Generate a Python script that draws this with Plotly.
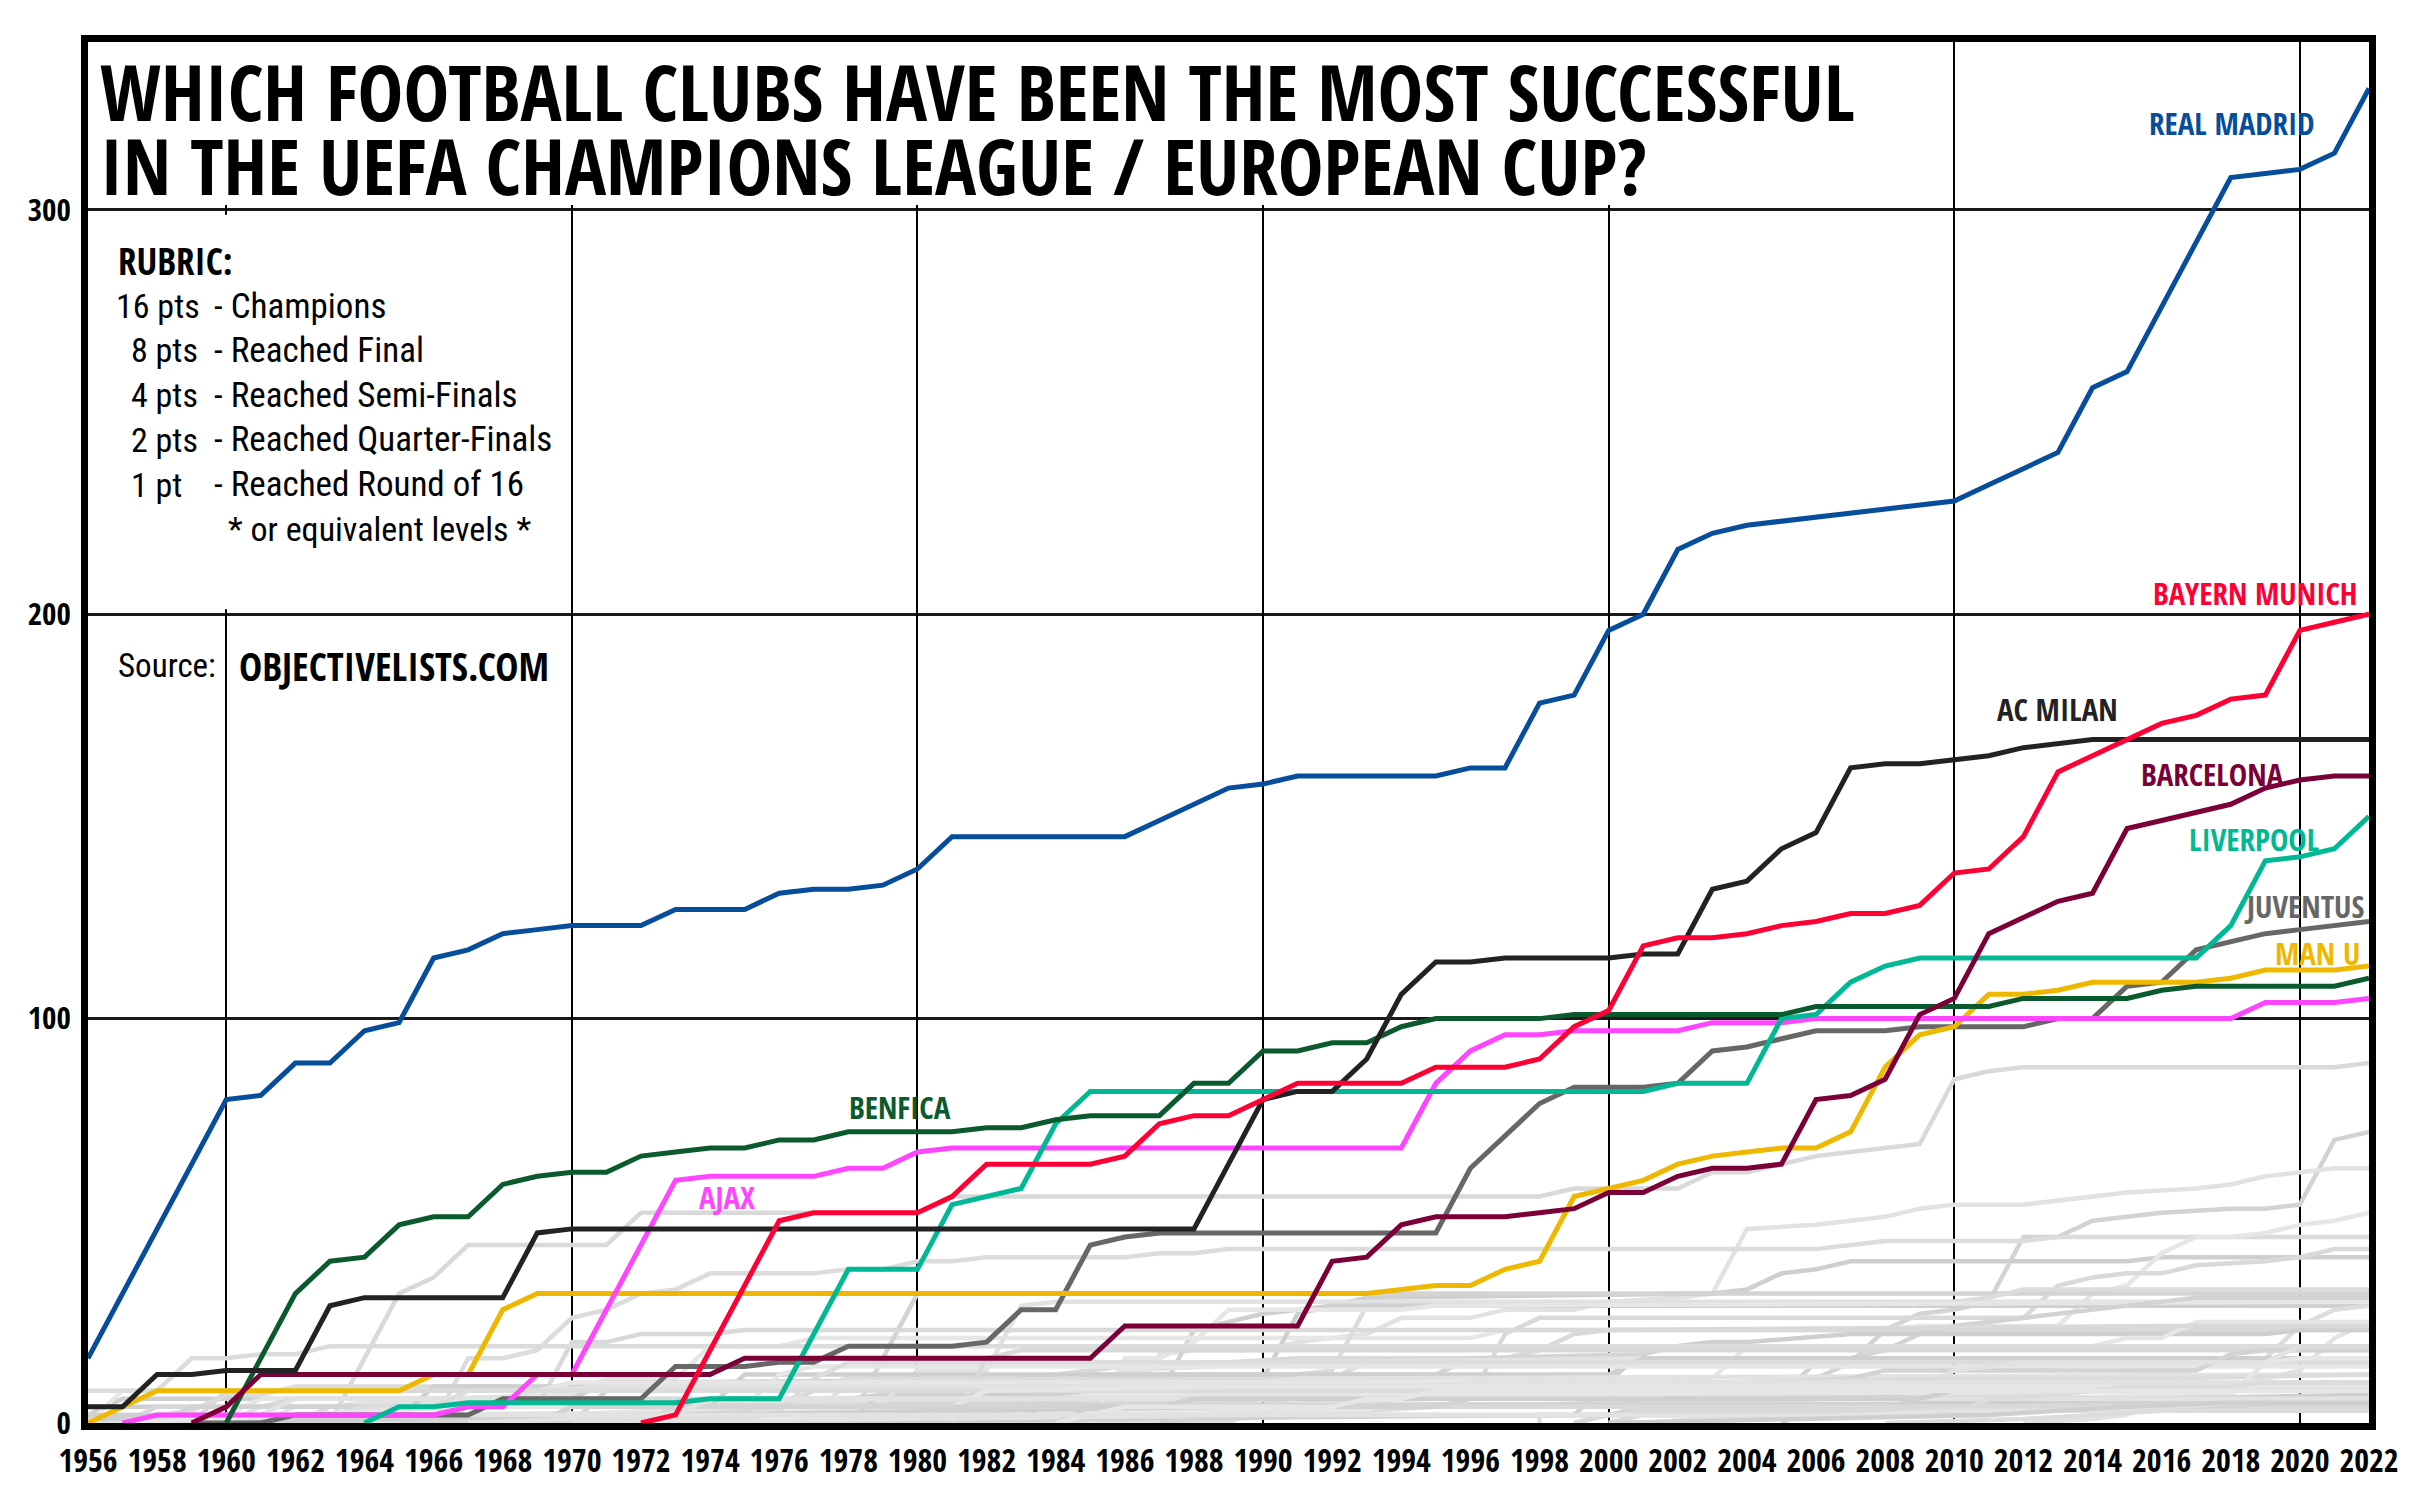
import plotly.graph_objects as go

# ---------------- DATA ----------------
YEARS = list(range(1956, 2023))
TICK_YEARS = list(range(1956, 2023, 2))
GRID_YEARS = list(range(1960, 2021, 10))
Y_TICKS = [0, 100, 200, 300]

REAL_MADRID_START = 1956
REAL_MADRID = [16, 32, 48, 64, 80, 81, 89, 89, 97, 99,
               115, 117, 121, 122, 123, 123, 123, 127, 127, 127,
               131, 132, 132, 133, 137, 145, 145, 145, 145, 145,
               145, 149, 153, 157, 158, 160, 160, 160, 160, 160,
               162, 162, 178, 180, 196, 200, 216, 220, 222, 223,
               224, 225, 226, 227, 228, 232, 236, 240, 256, 260,
               276, 292, 308, 309, 310, 314, 330]

BAYERN_START = 1972
BAYERN = [0, 2, 18, 34, 50, 52, 52, 52, 52, 56,
          64, 64, 64, 64, 66, 74, 76, 76, 80, 84,
          84, 84, 84, 88, 88, 88, 90, 98, 102, 118,
          120, 120, 121, 123, 124, 126, 126, 128, 136, 137,
          145, 161, 165, 169, 173, 175, 179, 180, 196, 198,
          200]

AC_MILAN_START = 1956
AC_MILAN = [4, 4, 12, 12, 13, 13, 13, 29, 31, 31,
            31, 31, 31, 47, 48, 48, 48, 48, 48, 48,
            48, 48, 48, 48, 48, 48, 48, 48, 48, 48,
            48, 48, 48, 64, 80, 82, 82, 90, 106, 114,
            114, 115, 115, 115, 115, 116, 116, 132, 134, 142,
            146, 162, 163, 163, 164, 165, 167, 168, 169, 169,
            169, 169, 169, 169, 169, 169, 169]

BARCELONA_START = 1959
BARCELONA = [0, 4, 12, 12, 12, 12, 12, 12, 12, 12,
             12, 12, 12, 12, 12, 12, 16, 16, 16, 16,
             16, 16, 16, 16, 16, 16, 16, 24, 24, 24,
             24, 24, 24, 40, 41, 49, 51, 51, 51, 52,
             53, 57, 57, 61, 63, 63, 64, 80, 81, 85,
             101, 105, 121, 125, 129, 131, 147, 149, 151, 153,
             157, 159, 160, 160]

LIVERPOOL_START = 1964
LIVERPOOL = [0, 4, 4, 5, 5, 5, 5, 5, 5, 5,
             6, 6, 6, 22, 38, 38, 38, 54, 56, 58,
             74, 82, 82, 82, 82, 82, 82, 82, 82, 82,
             82, 82, 82, 82, 82, 82, 82, 82, 84, 84,
             84, 100, 101, 109, 113, 115, 115, 115, 115, 115,
             115, 115, 115, 115, 123, 139, 140, 142, 150]

JUVENTUS_START = 1959
JUVENTUS = [0, 0, 0, 2, 2, 2, 2, 2, 2, 6,
            6, 6, 6, 6, 14, 14, 14, 15, 15, 19,
            19, 19, 19, 20, 28, 28, 44, 46, 47, 47,
            47, 47, 47, 47, 47, 47, 47, 63, 71, 79,
            83, 83, 83, 84, 92, 93, 95, 97, 97, 97,
            98, 98, 98, 98, 100, 100, 108, 109, 117, 119,
            121, 122, 123, 124]

MAN_U_START = 1956
MAN_U = [0, 4, 8, 8, 8, 8, 8, 8, 8, 8,
         12, 12, 28, 32, 32, 32, 32, 32, 32, 32,
         32, 32, 32, 32, 32, 32, 32, 32, 32, 32,
         32, 32, 32, 32, 32, 32, 32, 32, 33, 34,
         34, 38, 40, 56, 58, 60, 64, 66, 67, 68,
         68, 72, 88, 96, 98, 106, 106, 107, 109, 109,
         109, 109, 110, 112, 112, 112, 113]

AJAX_START = 1957
AJAX = [0, 2, 2, 2, 2, 2, 2, 2, 2, 2,
        4, 4, 12, 12, 28, 44, 60, 61, 61, 61,
        61, 63, 63, 67, 68, 68, 68, 68, 68, 68,
        68, 68, 68, 68, 68, 68, 68, 68, 84, 92,
        96, 96, 97, 97, 97, 97, 99, 99, 99, 100,
        100, 100, 100, 100, 100, 100, 100, 100, 100, 100,
        100, 100, 104, 104, 104, 105]

BENFICA_START = 1960
BENFICA = [0, 16, 32, 40, 41, 49, 51, 51, 59, 61,
           62, 62, 66, 67, 68, 68, 70, 70, 72, 72,
           72, 72, 73, 73, 75, 76, 76, 76, 84, 84,
           92, 92, 94, 94, 98, 100, 100, 100, 100, 101,
           101, 101, 101, 101, 101, 101, 103, 103, 103, 103,
           103, 103, 105, 105, 105, 105, 107, 108, 108, 108,
           108, 108, 110]

# other clubs: (year, cumulative points) at the years where the line turns
INTER = [(1963, 0), (1964, 16), (1965, 32), (1966, 36), (1967, 44), (1971, 44), (1972, 52),
         (1980, 52), (1981, 56), (1998, 56), (1999, 58), (2002, 58), (2003, 62), (2004, 62),
         (2005, 64), (2006, 66), (2007, 67), (2008, 68), (2009, 69), (2010, 85), (2011, 87),
         (2012, 88), (2021, 88), (2022, 89)]
CHELSEA = [(1999, 0), (2000, 2), (2003, 2), (2004, 6), (2005, 10), (2006, 11), (2007, 15),
           (2008, 23), (2009, 27), (2010, 28), (2011, 30), (2012, 46), (2013, 46), (2014, 50),
           (2015, 51), (2016, 52), (2018, 53), (2019, 53), (2020, 54), (2021, 70), (2022, 72)]
PORTO = [(1956, 0), (1978, 0), (1979, 1), (1986, 1), (1987, 17), (1988, 18), (1990, 18),
         (1991, 20), (1993, 22), (1994, 26), (1996, 26), (1997, 28), (1999, 28), (2000, 30),
         (2002, 31), (2003, 32), (2004, 48), (2006, 49), (2007, 50), (2008, 51), (2009, 53),
         (2010, 54), (2012, 54), (2013, 55), (2015, 57), (2017, 58), (2018, 59), (2019, 61),
         (2021, 63), (2022, 63)]
CELTIC = [(1966, 0), (1967, 16), (1968, 16), (1969, 18), (1970, 26), (1971, 28), (1972, 32),
          (1973, 33), (1974, 37), (1977, 37), (1978, 38), (1979, 38), (1980, 40), (1981, 40),
          (1982, 41), (1986, 41), (1987, 42), (1988, 42), (1989, 43), (2006, 43), (2007, 44),
          (2008, 45), (2012, 45), (2013, 46), (2022, 46)]
PSV = [(1963, 0), (1964, 2), (1975, 2), (1976, 6), (1978, 6), (1979, 7), (1987, 7), (1988, 23),
       (1989, 25), (1990, 27), (1991, 28), (1992, 29), (1993, 31), (2003, 32), (2004, 33),
       (2005, 37), (2006, 38), (2007, 40), (2015, 40), (2016, 41), (2022, 41)]
ATLETICO = [(1958, 0), (1959, 4), (1965, 4), (1966, 6), (1970, 7), (1971, 11), (1973, 11),
            (1974, 19), (1976, 19), (1977, 21), (1996, 21), (1997, 23), (2008, 23), (2009, 24),
            (2013, 24), (2014, 32), (2015, 34), (2016, 42), (2017, 46), (2018, 46), (2019, 47),
            (2020, 49), (2021, 50), (2022, 52)]
DORTMUND = [(1963, 0), (1964, 4), (1996, 6), (1997, 22), (1998, 26), (2012, 26), (2013, 34),
            (2014, 36), (2015, 37), (2016, 37), (2017, 39), (2019, 40), (2020, 41), (2021, 43),
            (2022, 43)]
FOREST = [(1978, 0), (1979, 16), (1980, 32), (2022, 32)]
HAMBURG = [(1960, 0), (1961, 4), (1963, 4), (1964, 5), (1979, 5), (1980, 13), (1982, 13),
           (1983, 29), (1984, 30), (2022, 30)]
MARSEILLE = [(1972, 0), (1989, 0), (1990, 4), (1991, 12), (1992, 13), (1993, 29), (2010, 30),
             (2011, 31), (2012, 33), (2022, 33)]
RED_STAR = [(1956, 2), (1957, 6), (1970, 6), (1971, 10), (1990, 11), (1991, 27), (1992, 29),
            (2022, 29)]
STEAUA = [(1985, 0), (1986, 16), (1987, 16), (1988, 20), (1989, 28), (1994, 28), (1995, 29),
          (2022, 30)]
FEYENOORD = [(1962, 0), (1963, 4), (1969, 4), (1970, 20), (1971, 20), (1972, 22), (1974, 22),
             (1975, 23), (2022, 23)]
ARSENAL = [(1971, 0), (1972, 2), (2000, 2), (2001, 4), (2004, 6), (2005, 7), (2006, 15),
           (2007, 16), (2008, 18), (2009, 22), (2010, 24), (2011, 25), (2012, 26), (2013, 27),
           (2014, 28), (2015, 29), (2016, 30), (2017, 31), (2022, 31)]
MAN_CITY = [(2012, 0), (2014, 1), (2015, 2), (2016, 6), (2017, 7), (2018, 9), (2019, 11),
            (2020, 13), (2021, 21), (2022, 25)]
PSG = [(1987, 0), (1995, 4), (2000, 5), (2013, 7), (2014, 9), (2015, 11), (2016, 13),
       (2017, 14), (2018, 15), (2019, 16), (2020, 24), (2021, 28), (2022, 29)]
VALENCIA = [(1972, 0), (1999, 2), (2000, 10), (2001, 18), (2003, 20), (2004, 20), (2007, 22),
            (2019, 22), (2020, 23), (2022, 23)]
MONACO = [(1961, 0), (1964, 2), (1979, 3), (1993, 3), (1994, 7), (1997, 7), (1998, 11),
          (2003, 11), (2004, 19), (2014, 19), (2015, 21), (2016, 21), (2017, 25), (2022, 25)]
DYNAMO_KYIV = [(1967, 0), (1973, 2), (1976, 4), (1977, 8), (1982, 10), (1986, 14), (1987, 14),
               (1991, 16), (1997, 16), (1998, 18), (1999, 22), (2000, 23), (2016, 24), (2022, 24)]
PANATHINAIKOS = [(1960, 0), (1970, 0), (1971, 8), (1984, 8), (1985, 12), (1995, 12),
                 (1996, 16), (2001, 17), (2002, 19), (2022, 19)]
ANDERLECHT = [(1956, 0), (1963, 2), (1966, 2), (1967, 4), (1981, 4), (1982, 8), (1985, 9),
              (1986, 13), (1991, 15), (2001, 16), (2022, 16)]
RANGERS = [(1957, 1), (1959, 3), (1960, 7), (1961, 7), (1962, 9), (1977, 9), (1978, 11),
           (1992, 11), (1993, 15), (2005, 15), (2007, 16), (2022, 16)]
LEEDS = [(1969, 0), (1970, 4), (1974, 4), (1975, 12), (2000, 12), (2001, 16), (2022, 16)]
ST_ETIENNE = [(1964, 0), (1975, 4), (1976, 12), (1977, 14), (1982, 14), (2022, 14)]
ASTON_VILLA = [(1981, 0), (1982, 16), (1983, 18), (2022, 18)]
MALMO = [(1965, 0), (1978, 0), (1979, 8), (2022, 8)]
BRUGGE = [(1972, 0), (1976, 2), (1977, 2), (1978, 10), (1990, 10), (1991, 11), (2022, 12)]
GLADBACH = [(1970, 0), (1971, 1), (1975, 1), (1976, 3), (1977, 11), (1978, 15), (2022, 15)]
PARTIZAN = [(1956, 1), (1965, 1), (1966, 9), (2022, 9)]
FIORENTINA = [(1956, 0), (1957, 8), (1969, 8), (1970, 10), (2022, 10)]
EINTRACHT = [(1959, 0), (1960, 8), (2022, 8)]
ROMA = [(1983, 0), (1984, 8), (2001, 8), (2002, 9), (2007, 11), (2008, 13), (2017, 13),
        (2018, 17), (2019, 18), (2022, 18)]
LYON = [(2001, 0), (2004, 2), (2005, 4), (2006, 6), (2007, 7), (2008, 8), (2009, 9),
        (2010, 13), (2011, 14), (2012, 15), (2019, 15), (2020, 19), (2022, 19)]
LEVERKUSEN = [(1998, 0), (1998, 2), (2001, 2), (2002, 10), (2011, 11), (2016, 11), (2022, 12)]
GALATASARAY = [(1957, 0), (1989, 4), (1994, 4), (2000, 4), (2001, 6), (2013, 8), (2014, 9),
               (2022, 9)]
TOTTENHAM = [(1961, 0), (1962, 4), (2010, 4), (2011, 6), (2018, 7), (2019, 15), (2020, 16),
             (2022, 16)]
DEPORTIVO = [(2000, 0), (2001, 2), (2002, 4), (2003, 4), (2004, 8), (2022, 8)]
VILLARREAL = [(2005, 0), (2006, 4), (2008, 4), (2009, 6), (2021, 6), (2022, 10)]
SPARTAK = [(1970, 0), (1990, 2), (1991, 6), (1993, 8), (1996, 10), (2022, 10)]
REIMS = [(1956, 8), (1958, 8), (1959, 16), (1960, 16), (1961, 17), (1962, 17), (1963, 19),
         (2022, 19)]
HIBERNIAN = [(1956, 4), (2022, 4)]
RAPID = [(1956, 2), (1960, 2), (1961, 6), (1984, 6), (1985, 7), (1996, 7), (2022, 8)]
VASAS = [(1957, 0), (1958, 4), (1961, 4), (1962, 6), (2022, 6)]
YOUNG_BOYS = [(1958, 0), (1959, 4), (2022, 5)]
STANDARD = [(1959, 2), (1961, 2), (1962, 6), (1968, 6), (1969, 8), (1971, 9), (2022, 9)]
DUKLA = [(1959, 0), (1962, 2), (1963, 2), (1964, 4), (1966, 4), (1967, 8), (2022, 8)]
SPORTING = [(1956, 2), (1982, 2), (1983, 4), (2008, 4), (2009, 5), (2022, 7)]
CSKA_SOFIA = [(1957, 0), (1967, 4), (1981, 4), (1982, 8), (1989, 9), (2022, 9)]
DERBY = [(1972, 0), (1973, 4), (2022, 4)]
LEGIA = [(1969, 0), (1970, 4), (1995, 4), (1996, 6), (2022, 6)]
UJPEST = [(1967, 0), (1973, 2), (1974, 6), (2022, 6)]
SCHALKE = [(2001, 0), (2008, 2), (2010, 2), (2011, 6), (2013, 7), (2014, 8), (2015, 9),
           (2018, 9), (2019, 10), (2022, 10)]
BORDEAUX = [(1984, 0), (1985, 4), (1987, 4), (1988, 6), (2009, 6), (2010, 8), (2022, 8)]
GOTEBORG = [(1984, 0), (1986, 4), (1992, 4), (1993, 6), (1994, 6), (1995, 8), (2022, 8)]
LAZIO = [(1999, 0), (2000, 2), (2001, 3), (2020, 3), (2021, 4), (2022, 4)]
NAPOLI = [(1987, 0), (1988, 1), (1990, 2), (2011, 2), (2012, 3), (2016, 3), (2017, 4),
          (2020, 5), (2022, 5)]
SEVILLA = [(1957, 0), (1958, 2), (2007, 2), (2010, 3), (2015, 3), (2018, 5), (2020, 5),
           (2021, 6), (2022, 6)]
ZENIT = [(2008, 0), (2012, 1), (2014, 2), (2016, 3), (2022, 3)]
SHAKHTAR = [(2000, 0), (2011, 2), (2013, 3), (2015, 4), (2018, 5), (2022, 5)]

OTHER_CLUBS = [INTER, CHELSEA, PORTO, CELTIC, PSV, ATLETICO, DORTMUND, FOREST, HAMBURG,
               MARSEILLE, RED_STAR, STEAUA, FEYENOORD, ARSENAL, MAN_CITY, PSG, VALENCIA,
               MONACO, DYNAMO_KYIV, PANATHINAIKOS, ANDERLECHT, RANGERS, LEEDS, ST_ETIENNE,
               ASTON_VILLA, MALMO, BRUGGE, GLADBACH, PARTIZAN, FIORENTINA, EINTRACHT, ROMA,
               LYON, LEVERKUSEN, GALATASARAY, TOTTENHAM, DEPORTIVO, VILLARREAL, SPARTAK,
               REIMS, HIBERNIAN, RAPID, VASAS, YOUNG_BOYS, STANDARD, DUKLA, SPORTING,
               CSKA_SOFIA, DERBY, LEGIA, UJPEST, SCHALKE, BORDEAUX, GOTEBORG, LAZIO, NAPOLI,
               SEVILLA, ZENIT, SHAKHTAR]

TITLE_LINES = ["WHICH FOOTBALL CLUBS HAVE BEEN THE MOST SUCCESSFUL",
               "IN THE UEFA CHAMPIONS LEAGUE / EUROPEAN CUP?"]
RUBRIC_HEAD = "RUBRIC:"
RUBRIC_PTS = ["16 pts", "8 pts", "4 pts", "2 pts", "1 pt"]
RUBRIC_DESC = ["- Champions", "- Reached Final", "- Reached Semi-Finals",
               "- Reached Quarter-Finals", "- Reached Round of 16"]
RUBRIC_NOTE = "* or equivalent levels *"
SOURCE_LABEL = "Source:"
SOURCE_NAME = "OBJECTIVELISTS.COM"

# ---------------- STYLE ----------------
BOLD = "Open Sans Condensed, Roboto Condensed, DejaVu Sans Condensed, sans-serif"
REG = "Roboto Condensed, Open Sans Condensed, DejaVu Sans Condensed, sans-serif"
GRAYS = ["#d9d9d9", "#d3d3d3", "#e2e2e2", "#dcdcdc", "#cfcfcf", "#e6e6e6"]

fig = go.Figure()

for i, club in enumerate(OTHER_CLUBS):
    fig.add_trace(go.Scatter(
        x=[p[0] for p in club], y=[p[1] for p in club], mode="lines",
        line=dict(color=GRAYS[i % len(GRAYS)], width=4.5),
        hoverinfo="skip", showlegend=False))

MAIN = [
    ("JUVENTUS", JUVENTUS_START, JUVENTUS, "#676767"),
    ("MAN U", MAN_U_START, MAN_U, "#efb800"),
    ("AJAX", AJAX_START, AJAX, "#ff45ff"),
    ("LIVERPOOL", LIVERPOOL_START, LIVERPOOL, "#00b994"),
    ("BENFICA", BENFICA_START, BENFICA, "#0b5a2e"),
    ("BARCELONA", BARCELONA_START, BARCELONA, "#7b0038"),
    ("AC MILAN", AC_MILAN_START, AC_MILAN, "#222222"),
    ("BAYERN MUNICH", BAYERN_START, BAYERN, "#ff0035"),
    ("REAL MADRID", REAL_MADRID_START, REAL_MADRID, "#064d9b"),
]
for name, start, vals, col in MAIN:
    xs = YEARS[YEARS.index(start):YEARS.index(start) + len(vals)]
    fig.add_trace(go.Scatter(x=xs, y=vals, mode="lines", name=name,
                             line=dict(color=col, width=5),
                             showlegend=False))

# invisible trace carrying the decade grid axis
fig.add_trace(go.Scatter(x=[YEARS[0], YEARS[-1]], y=[0, 0], xaxis="x2", mode="markers",
                         marker=dict(opacity=0), hoverinfo="skip", showlegend=False))

LABEL_POS = {
    "REAL MADRID": (2020.5, 321.5, "right"),
    "BAYERN MUNICH": (2021.7, 205.3, "right"),
    "AC MILAN": (2014.8, 176.6, "right"),
    "BARCELONA": (2019.6, 160.4, "right"),
    "LIVERPOOL": (2020.6, 144.5, "right"),
    "JUVENTUS": (2021.9, 127.9, "right"),
    "MAN U": (2021.8, 116.2, "right"),
    "BENFICA": (1979.5, 78.1, "center"),
    "AJAX": (1974.5, 55.8, "center"),
}


def txt(x, y, text, family, size, xa="left", color="black", height=None):
    d = dict(x=x, y=y, xref="x", yref="y", text=text, showarrow=False,
             xanchor=xa, yanchor="middle", font=dict(family=family, size=size, color=color))
    if height is not None:
        d["height"] = height
        d["valign"] = "middle"
    return d


ann = []
for name, start, vals, col in MAIN:
    x, y, xa = LABEL_POS[name]
    ann.append(txt(x, y, f"<b>{name}</b>", BOLD, 31, xa, col))

ann.append(txt(1956.3, 329.3, f"<b>{TITLE_LINES[0]}</b>", BOLD, 77, height=72))
ann.append(txt(1956.3, 311.2, f"<b>{TITLE_LINES[1]}</b>", BOLD, 77, height=72))

ann.append(txt(1956.8, 287.5, f"<b>{RUBRIC_HEAD}</b>", BOLD, 37))
rows_y = [276.2, 265.3, 254.2, 243.2, 232.0]
for i, (p, d) in enumerate(zip(RUBRIC_PTS, RUBRIC_DESC)):
    ann.append(txt(1956.75 if i == 0 else 1957.2, rows_y[i], p, REG, 34))
    ann.append(txt(1959.6, rows_y[i], d, REG, 35))
ann.append(txt(1960.0, 221.0, RUBRIC_NOTE, REG, 34))
ann.append(txt(1956.8, 187.2, SOURCE_LABEL, REG, 33))
ann.append(txt(1960.3, 187.2, f"<b>{SOURCE_NAME}</b>", BOLD, 39))

shapes = [
    dict(type="rect", xref="x", yref="y", x0=1956, x1=2009.3, y0=301.2, y1=342,
         fillcolor="white", line=dict(width=0), layer="between"),
    dict(type="rect", xref="x", yref="y", x0=1956, x1=1969.6, y0=201.2, y1=298.8,
         fillcolor="white", line=dict(width=0), layer="between"),
]

fig.update_layout(
    width=2412, height=1493,
    margin=dict(l=88, r=43, t=42, b=59, pad=0),
    paper_bgcolor="white", plot_bgcolor="white",
    annotations=ann, shapes=shapes,
    xaxis=dict(range=[1956, 2022], tickmode="array", tickvals=TICK_YEARS,
               ticktext=[str(y) for y in TICK_YEARS], showgrid=False, zeroline=False,
               showline=True, mirror=True, linewidth=7, linecolor="black", ticks="",
               tickangle=0, ticklabelstandoff=4,
               tickfont=dict(family=BOLD, size=32, color="black", weight="bold"),
               fixedrange=True),
    xaxis2=dict(range=[1956, 2022], matches="x", overlaying="x", tickmode="array",
                tickvals=GRID_YEARS, showticklabels=False, showgrid=True,
                gridcolor="black", gridwidth=1.6, zeroline=False, showline=False, ticks=""),
    yaxis=dict(range=[0, 341.5], tickmode="array", tickvals=Y_TICKS,
               ticktext=[str(v) for v in Y_TICKS], showgrid=True, gridcolor="#1a1a1a",
               gridwidth=2.6, zeroline=False, showline=True, mirror=True, linewidth=7,
               linecolor="black", ticks="", ticklabelstandoff=4,
               tickfont=dict(family=BOLD, size=31, color="black", weight="bold"),
               fixedrange=True),
)

fig.write_html("out.html", config={"displayModeBar": False},
               post_script="document.body.style.margin='0';document.body.style.overflow='hidden';")
